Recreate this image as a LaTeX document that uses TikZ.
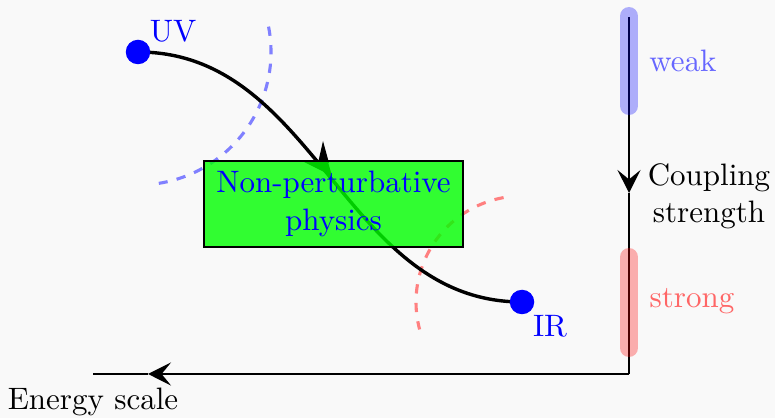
\documentclass[tikz,border=0pt]{standalone}
\usetikzlibrary{arrows.meta,calc}
\definecolor{bgc}{RGB}{249,249,249}
\begin{document}
\begin{tikzpicture}[x=0.3226pt,y=-0.3226pt,
  dot/.style={circle,fill=blue,inner sep=0pt,minimum size=7.9pt},
  axisline/.style={line width=0.65pt},
  axtip/.style={-{Stealth[length=7.4pt,width=7.4pt,inset=3pt]}},
  regarc/.style={dashed,line width=1pt},
  band/.style={line width=5.8pt,line cap=round,opacity=0.3},
  lab/.style={anchor=base}]
\fill[bgc] (0,0) rectangle (775,418);
\useasboundingbox (0,0) rectangle (775,418);

\coordinate (uvc) at (138,52);
\coordinate (irc) at (522,302);

% dashed arcs
\draw[regarc,blue!50] ($(uvc)+(-11:133)$) arc[start angle=-11,end angle=81,radius=133];
\draw[regarc,red!50] ($(irc)+(-100:106)$) arc[start angle=-100,end angle=-195,radius=106];

% flow curve
\draw[line width=1.1pt] (uvc) to[out=0,in=180] (irc);
\fill (323,141) -- (329,163) -- (318,163) -- cycle;
\fill (304,162) -- (328,162) -- (332,176) -- cycle;

% box
\node[draw,line width=0.8pt,fill=green,fill opacity=0.8,text opacity=1,text=blue,
      minimum width=83.5pt,minimum height=27.7pt,align=center,inner sep=0pt]
      (np) at (333.5,204) {Non-perturbative\\physics};

% dots and labels
\node[dot] (UV) at (uvc) {};
\node[dot] (IR) at (irc) {};
\node[lab,text=blue] (uvl) at (173,42) {UV};
\node[lab,text=blue] (irl) at (550,337) {IR};

% axes
\coordinate (atop) at (629,17);
\coordinate (vtip) at (629,193);
\coordinate (corner) at (629,374);
\coordinate (htip) at (148,374);
\coordinate (hend) at (93,374);
\draw[axisline,axtip] (atop) -- (vtip);
\draw[axisline] (vtip) -- (corner);
\draw[axisline,axtip] (corner) -- (htip);
\draw[axisline] (htip) -- (hend);

% bands
\draw[band,blue] (629,16) -- (629,106);
\draw[band,red] (629,257) -- (629,348);

\node[lab,text=blue!60] (weak) at (683,72) {weak};
\node[lab,text=red!60] (strong) at (692,308) {strong};
\node[align=center,inner sep=0pt] (coup) at (709,196) {Coupling\\strength};
\node[lab] (energy) at (93,410) {Energy scale};
\end{tikzpicture}
\end{document}
